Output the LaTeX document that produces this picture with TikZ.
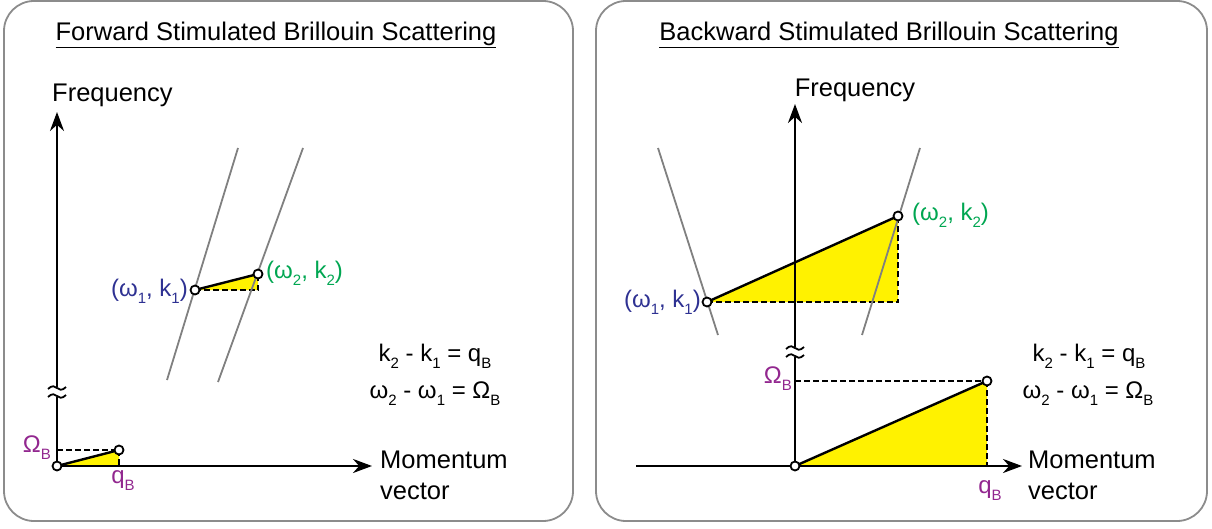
\documentclass[tikz,border=0pt]{standalone}
\usepackage{fontspec}
\setmainfont{Liberation Sans}
\usetikzlibrary{arrows.meta}
\definecolor{myblue}{HTML}{2E3192}
\definecolor{mygreen}{HTML}{00A651}
\definecolor{mypurple}{HTML}{92278F}
\definecolor{myyellow}{HTML}{FFF200}
\definecolor{boxgray}{HTML}{8C8C8C}
\definecolor{linegray}{HTML}{808080}
\newcommand\sbs[1]{\raisebox{-0.55ex}{\fontsize{15}{15}\selectfont #1}}
\begin{document}
\begin{tikzpicture}[x=1pt,y=-1pt,
  panel/.style={draw=boxgray,line width=1.8pt,rounded corners=30pt},
  big/.style={inner sep=0pt,font=\fontsize{25.5}{31}\selectfont},
  lab/.style={inner sep=0pt,font=\fontsize{24}{28}\selectfont},
  axis/.style={line width=2.4pt,-{Stealth[length=19pt,width=14pt]}},
  disp/.style={draw=linegray,line width=1.8pt},
  hyp/.style={line width=2.4pt},
  dsh/.style={line width=1.8pt,dash pattern=on 5.5pt off 3.5pt},
  tri/.style={fill=myyellow},
  brk/.style={line width=1.8pt},
  pt/.style={circle,draw,fill=white,line width=1.8pt,inner sep=0pt,minimum size=9pt}]
\useasboundingbox (0,0) rectangle (1212,529);

% ---------- panels ----------
\draw[panel] (4,1) rectangle (573,521);
\draw[panel] (596,1) rectangle (1207,521);

% ---------- left panel ----------
\node[big] (t1) at (276,35) {\underline{Forward Stimulated Brillouin Scattering}};
\node[big,anchor=west] (f1) at (52,95) {Frequency};
\coordinate (o1) at (57,466);
\coordinate (ya1) at (57,112);
\coordinate (xa1) at (372,466);
% upper triangle
\coordinate (a1) at (195,290); \coordinate (b1) at (258,274); \coordinate (c1) at (258,290);
\fill[tri] (a1) -- (b1) -- (c1) -- cycle;
\draw[dsh] (a1) -- (c1) -- (b1);
% gray dispersion lines
\coordinate (g1a) at (238,148); \coordinate (g1b) at (167,380);
\coordinate (g2a) at (303,148); \coordinate (g2b) at (218,382);
\draw[disp] (g1a) -- (g1b);
\draw[disp] (g2a) -- (g2b);
\draw[hyp] (a1) -- (b1);
\node[pt] (p1) at (a1) {};
\node[pt] (p2) at (b1) {};
\node[lab,anchor=east,text=myblue] (l1) at (188,291) {(ω\sbs{1}, k\sbs{1})};
\node[lab,anchor=west,text=mygreen] (l2) at (266,273) {(ω\sbs{2}, k\sbs{2})};
% lower triangle
\coordinate (qb1) at (119,450); \coordinate (qc1) at (119,466); \coordinate (qo1) at (57,450);
\fill[tri] (o1) -- (qb1) -- (qc1) -- cycle;
\draw[dsh] (qo1) -- (qb1);
\draw[dsh] (qb1) -- (qc1);
% axes
\draw[axis] (o1) -- (ya1);
\draw[axis] (o1) -- (xa1);
\draw[hyp] (o1) -- (qb1);
\node[pt] (po1) at (o1) {};
\node[pt] (pq1) at (qb1) {};
% break
\fill[white] (49,387) rectangle (65,397);
\draw[brk] (48,389) .. controls (52,385) and (55,386) .. (57,388) .. controls (59,390) and (62,391) .. (66,387);
\draw[brk] (48,397) .. controls (52,393) and (55,394) .. (57,396) .. controls (59,398) and (62,399) .. (66,395);
\node[lab,anchor=east,text=mypurple] (om1) at (51,448) {Ω\sbs{B}};
\node[lab,text=mypurple] (q1) at (123,481) {q\sbs{B}};
\node[lab] (e11) at (435,356) {k\sbs{2} - k\sbs{1} = q\sbs{B}};
\node[lab] (e12) at (435,394) {ω\sbs{2} - ω\sbs{1} = Ω\sbs{B}};
\node[big,anchor=north west,align=left] (m1) at (380,451) {Momentum\\vector};

% ---------- right panel ----------
\node[big] (t2) at (889,35) {\underline{Backward Stimulated Brillouin Scattering}};
\node[big] (f2) at (855,90) {Frequency};
\coordinate (o2) at (795,466);
\coordinate (ya2) at (795,104);
\coordinate (xa2) at (1022,466);
\coordinate (xs2) at (636,466);
% upper triangle
\coordinate (a2) at (707,302); \coordinate (b2) at (898,216); \coordinate (c2) at (898,302);
\fill[tri] (a2) -- (b2) -- (c2) -- cycle;
\draw[dsh] (a2) -- (c2) -- (b2);
% lower triangle
\coordinate (qb2) at (987,381); \coordinate (qc2) at (987,466); \coordinate (qo2) at (795,381);
\fill[tri] (o2) -- (qb2) -- (qc2) -- cycle;
\draw[dsh] (qo2) -- (qb2);
\draw[dsh] (qb2) -- (qc2);
% gray dispersion lines
\coordinate (h1a) at (658,148); \coordinate (h1b) at (718,335);
\coordinate (h2a) at (920,148); \coordinate (h2b) at (862,335);
\draw[disp] (h1a) -- (h1b);
\draw[disp] (h2a) -- (h2b);
% axes
\draw[axis] (o2) -- (ya2);
\draw[axis] (xs2) -- (xa2);
\draw[hyp] (a2) -- (b2);
\draw[hyp] (o2) -- (qb2);
\node[pt] (p3) at (a2) {};
\node[pt] (p4) at (b2) {};
\node[pt] (po2) at (o2) {};
\node[pt] (pq2) at (qb2) {};
% break
\fill[white] (787,347) rectangle (803,357);
\draw[brk] (786,349) .. controls (790,345) and (793,346) .. (795,348) .. controls (797,350) and (800,351) .. (804,347);
\draw[brk] (786,357) .. controls (790,353) and (793,354) .. (795,356) .. controls (797,358) and (800,359) .. (804,355);
\node[lab,anchor=east,text=myblue] (l3) at (701,302) {(ω\sbs{1}, k\sbs{1})};
\node[lab,anchor=west,text=mygreen] (l4) at (912,215) {(ω\sbs{2}, k\sbs{2})};
\node[lab,anchor=east,text=mypurple] (om2) at (792,379) {Ω\sbs{B}};
\node[lab,text=mypurple] (q2) at (990,491) {q\sbs{B}};
\node[lab] (e21) at (1089,356) {k\sbs{2} - k\sbs{1} = q\sbs{B}};
\node[lab] (e22) at (1088,394) {ω\sbs{2} - ω\sbs{1} = Ω\sbs{B}};
\node[big,anchor=north west,align=left] (m2) at (1028,451) {Momentum\\vector};
\end{tikzpicture}
\end{document}
